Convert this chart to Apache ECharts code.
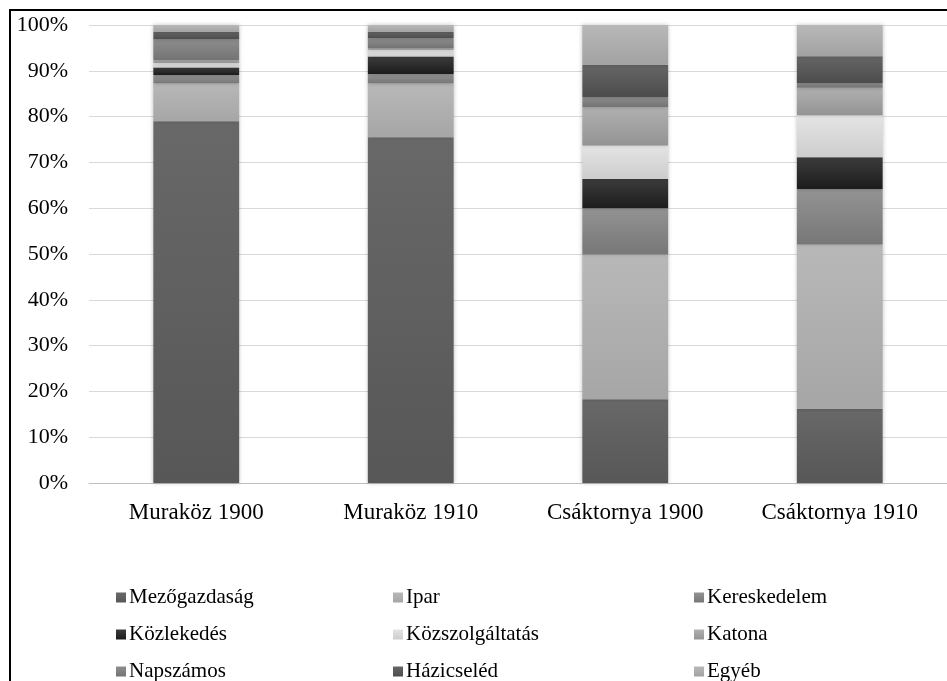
<!DOCTYPE html>
<html>
<head>
<meta charset="utf-8">
<script src="https://cdn.jsdelivr.net/npm/echarts@6/dist/echarts.min.js"></script>
<style>
  html, body { margin: 0; padding: 0; background: #fff; }
  #main { width: 947px; height: 681px; }
</style>
</head>
<body>
<div id="main"></div>
<script>
// kategóriák (x tengely)
var categories = ['Muraköz 1900', 'Muraköz 1910', 'Csáktornya 1900', 'Csáktornya 1910'];
var yTicks = ['0%', '10%', '20%', '30%', '40%', '50%', '60%', '70%', '80%', '90%', '100%'];

// részarányok (%), alulról felfelé
var mezogazdasag    = [79.0, 75.5, 18.3, 16.2];
var ipar            = [8.3, 11.8, 31.6, 35.9];
var kereskedelem    = [1.8, 2.0, 10.1, 12.1];
var kozlekedes      = [1.6, 3.8, 6.4, 6.9];
var kozszolgaltatas = [1.0, 1.5, 7.3, 9.2];
var katona          = [0.6, 0.4, 8.4, 6.0];
var napszamos       = [4.6, 2.1, 2.2, 1.0];
var hazicseled      = [1.6, 1.4, 7.0, 5.9];
var egyeb           = [1.5, 1.5, 8.7, 6.8];

var seriesNames = ['Mezőgazdaság', 'Ipar', 'Kereskedelem', 'Közlekedés', 'Közszolgáltatás', 'Katona', 'Napszámos', 'Házicseléd', 'Egyéb'];
var seriesData = [mezogazdasag, ipar, kereskedelem, kozlekedes, kozszolgaltatas, katona, napszamos, hazicseled, egyeb];
// szürke árnyalatok (felső, alsó)
var colors = [
  ['#686868', '#575757'],
  ['#b8b8b8', '#a6a6a6'],
  ['#939393', '#777777'],
  ['#3c3c3c', '#1c1c1c'],
  ['#e4e4e4', '#cdcdcd'],
  ['#b0b0b0', '#949494'],
  ['#8e8e8e', '#737373'],
  ['#666666', '#4c4c4c'],
  ['#b8b8b8', '#a2a2a2']
];

var font = 'Liberation Serif';

function grad(c) {
  return new echarts.graphic.LinearGradient(0, 0, 0, 1, [
    { offset: 0, color: c[0] },
    { offset: 1, color: c[1] }
  ]);
}

var series = seriesNames.map(function (name, i) {
  return {
    name: name,
    type: 'bar',
    stack: 'total',
    barWidth: '40%',
    data: seriesData[i],
    itemStyle: {
      color: grad(colors[i]),
      shadowBlur: 4,
      shadowColor: 'rgba(0,0,0,0.25)'
    }
  };
});

function legendCol(left, names) {
  return {
    orient: 'vertical',
    left: left,
    top: 587,
    height: 140,
    padding: 0,
    itemWidth: 10,
    itemHeight: 10,
    itemGap: 16,
    icon: 'rect',
    selectedMode: false,
    textStyle: { fontFamily: font, fontSize: 21, color: '#000', padding: [0, 0, 0, -2] },
    data: names
  };
}

var myChart = echarts.init(document.getElementById('main'));
var option = {
  animation: false,
  grid: { left: 89, right: -10, top: 25, bottom: 198 },
  legend: [
    legendCol(116, ['Mezőgazdaság', 'Közlekedés', 'Napszámos']),
    legendCol(393, ['Ipar', 'Közszolgáltatás', 'Házicseléd']),
    legendCol(694, ['Kereskedelem', 'Katona', 'Egyéb'])
  ],
  xAxis: {
    type: 'category',
    data: categories,
    axisTick: { show: false },
    axisLine: { lineStyle: { color: '#bfbfbf', width: 1 } },
    axisLabel: { fontFamily: font, fontSize: 23, color: '#000', margin: 18 }
  },
  yAxis: {
    type: 'value',
    min: 0,
    max: 100,
    interval: 10,
    axisLine: { show: false },
    axisTick: { show: false },
    splitLine: { lineStyle: { color: '#d9d9d9', width: 1 } },
    axisLabel: {
      fontFamily: font, fontSize: 22, color: '#000', margin: 21,
      formatter: function (v) { return yTicks[Math.round(v / 10)]; }
    }
  },
  graphic: [{
    type: 'rect',
    shape: { x: 10, y: 10, width: 960, height: 700 },
    style: { fill: 'none', stroke: '#000', lineWidth: 2 },
    silent: true
  }],
  series: series
};
myChart.setOption(option);
</script>
</body>
</html>
